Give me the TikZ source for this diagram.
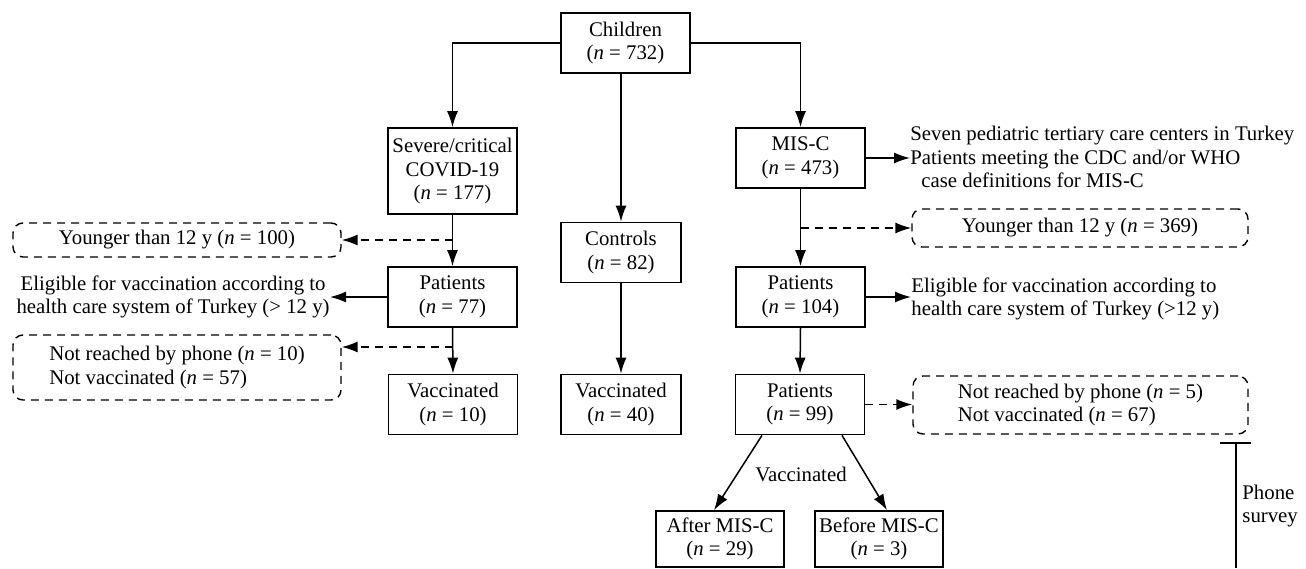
\documentclass[tikz,border=0pt]{standalone}
\usepackage{fontspec}
\setmainfont{Liberation Serif}
\usetikzlibrary{arrows.meta,calc}
\begin{document}
\begin{tikzpicture}[x=0.5pt,y=-0.5pt,
  every node/.style={font=\fontsize{10.4}{11.8}\selectfont, inner sep=0pt},
  box/.style={draw, line width=0.85pt, align=center, minimum width=64.5pt, minimum height=30pt},
  dbox/.style={draw, dashed, dash pattern=on 4pt off 3pt, line width=0.7pt, rounded corners=5pt, align=center},
  arr/.style={line width=0.75pt, -{Latex[length=8pt,width=5.5pt]}},
  darr/.style={line width=0.75pt, dash pattern=on 4pt off 3pt, -{Latex[length=8pt,width=5.5pt]}},
  plain/.style={line width=0.7pt}
]
\useasboundingbox (0,0) rectangle (1306,568);

% main boxes
\node[box] (ch) at (625.5,43) {Children\\(\textit{n} = 732)};
\node[box, minimum height=43pt] (sev) at (452.5,171) {Severe/critical\\COVID-19\\(\textit{n} = 177)};
\node[box] (pat77) at (452.5,297) {Patients\\(\textit{n} = 77)};
\node[box] (vac10) at (453,404.5) {Vaccinated\\(\textit{n} = 10)};
\node[box, minimum width=60pt] (ctrl) at (621,252.5) {Controls\\(\textit{n} = 82)};
\node[box, minimum width=60pt] (vac40) at (621,404.5) {Vaccinated\\(\textit{n} = 40)};
\node[box] (mis) at (800.5,158) {MIS-C\\(\textit{n} = 473)};
\node[box] (pat104) at (800.5,297) {Patients\\(\textit{n} = 104)};
\node[box] (pat99) at (800,404.5) {Patients\\(\textit{n} = 99)};
\node[box, minimum width=64pt, minimum height=28pt] (after) at (720,539) {After MIS-C\\(\textit{n} = 29)};
\node[box, minimum width=64pt, minimum height=28pt] (before) at (879,539) {Before MIS-C\\(\textit{n} = 3)};

% dashed boxes
\node[dbox, minimum width=164pt, minimum height=17pt] (y100) at (177,240) {Younger than 12 y (\textit{n} = 100)};
\node[dbox, minimum width=164pt, minimum height=32.5pt, align=left] (nr10) at (177,367.5) {Not reached by phone (\textit{n} = 10)\\Not vaccinated (\textit{n} = 57)};
\node[dbox, minimum width=168pt, minimum height=19pt] (y369) at (1080,228) {Younger than 12 y (\textit{n} = 369)};
\node[dbox, minimum width=167.5pt, minimum height=29pt, align=left] (nr5) at (1080.5,405) {Not reached by phone (\textit{n} = 5)\\Not vaccinated (\textit{n} = 67)};

% plain texts
\node[anchor=east, align=center] (elL) at (330,297) {Eligible for vaccination according to\\health care system of Turkey (> 12 y)};
\node[anchor=west, align=left] (elR) at (911,299) {Eligible for vaccination according to\\health care system of Turkey (>12 y)};
\node[anchor=west, align=left] (misT) at (910,157) {Seven pediatric tertiary care centers in Turkey\\Patients meeting the CDC and/or WHO\\\hspace*{5.5pt}case definitions for MIS-C};
\node (vaclbl) at (801,474) {Vaccinated};
\node[anchor=west, align=left] (phone) at (1242,506) {Phone\\survey};

% connectors from children
\draw[arr] (ch.west) -| (sev.north);
\draw[arr] (ch.east) -| (mis.north);
\draw[arr] (ctrl.north |- ch.south) -- (ctrl.north);

% left column
\draw[arr] (sev.south) -- (pat77.north);
\draw[darr] (sev.south |- y100.east) -- (y100.east);
\draw[arr] (pat77.west) -- (pat77.west -| elL.east);
\draw[arr] (pat77.south) -- (vac10.north);
\coordinate (d2) at (452.5,347);
\draw[darr] (d2) -- (d2 -| nr10.east);

% middle
\draw[arr] (ctrl.south) -- (vac40.north);

% right column
\draw[arr] (mis.east) -- (mis.east -| misT.west);
\draw[arr] (mis.south) -- (pat104.north);
\draw[darr] (mis.south |- y369.west) -- (y369.west);
\draw[arr] (pat104.east) -- (pat104.east -| elR.west);
\draw[arr] (pat104.south) -- (pat99.north);
\draw[darr] (pat99.east) -- (pat99.east -| nr5.west);
\draw[arr] ($(pat99.south)+(-38,0)$) -- ($(after.north)+(-6,0)$);
\draw[arr] ($(pat99.south)+(42,0)$) -- ($(before.north)+(8,0)$);

% phone survey bracket
\coordinate (tl) at (1220,443);
\coordinate (tr) at (1251,443);
\coordinate (tm) at (1236,443);
\coordinate (tb) at (1236,568);
\draw[plain] (tl) -- (tr);
\draw[plain] (tm) -- (tb);
\end{tikzpicture}
\end{document}
